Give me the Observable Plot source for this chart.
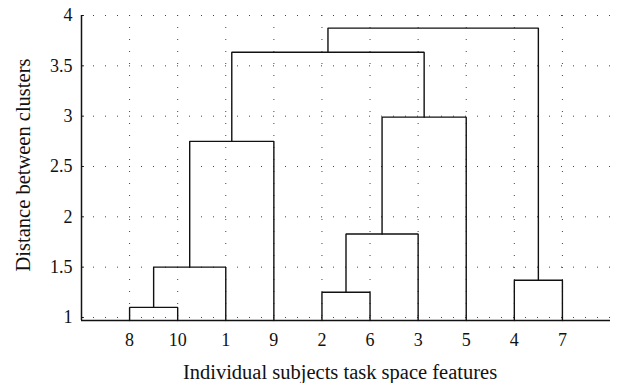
<!DOCTYPE html>
<html>
<head>
<meta charset="utf-8">
<script src="https://cdn.jsdelivr.net/npm/d3@7"></script>
<script src="https://cdn.jsdelivr.net/npm/@observablehq/plot@0.6"></script>
<style>
  html, body { margin: 0; padding: 0; background: #fff; }
  #chart svg { display: block; }
</style>
</head>
<body>
<div id="chart"></div>
<script>
// Leaf order along the horizontal axis (subject numbers)
const leafOrder = [8, 10, 1, 9, 2, 6, 3, 5, 4, 7];

// Linkage table: node ids 1..10 are subjects, ids 11.. are the clusters
// formed by each successive merge (first row -> 11, second -> 12, ...)
const mergeLeft   = [8, 2, 4, 11, 12, 14, 15, 16, 18];
const mergeRight  = [10, 6, 7, 1, 3, 9, 5, 17, 13];
const mergeHeight = [1.10, 1.25, 1.37, 1.50, 1.83, 2.75, 2.99, 3.635, 3.875];

// Axis ticks and labels
const yTicks = [1, 1.5, 2, 2.5, 3, 3.5, 4];
const yDomain = [0.97, 4];
const xLabel = "Individual subjects task space features";
const yLabel = "Distance between clusters";

const nLeaves = leafOrder.length;

// Position of each node: leaves sit at their slot, clusters centred over children
const nodeX = new Map();
const nodeY = new Map();
leafOrder.forEach((id, i) => { nodeX.set(id, i + 1); nodeY.set(id, yDomain[0]); });
mergeHeight.forEach((h, i) => {
  const id = nLeaves + 1 + i;
  const a = mergeLeft[i], b = mergeRight[i];
  nodeX.set(id, (nodeX.get(a) + nodeX.get(b)) / 2);
  nodeY.set(id, h);
});

// Each merge is drawn as a ⊓-shaped path: up from child a, across, down to child b
const links = mergeHeight.flatMap((h, i) => {
  const a = mergeLeft[i], b = mergeRight[i];
  return [
    {k: i, x: nodeX.get(a), y: nodeY.get(a)},
    {k: i, x: nodeX.get(a), y: h},
    {k: i, x: nodeX.get(b), y: h},
    {k: i, x: nodeX.get(b), y: nodeY.get(b)}
  ];
});

const slots = leafOrder.map((d, i) => i + 1);
const font = "'Liberation Serif', 'DejaVu Serif', serif";
const dots = {stroke: "#444", strokeOpacity: 1, strokeWidth: 1, strokeDasharray: "1,11"};

const chart = Plot.plot({
  width: 626,
  height: 383,
  marginLeft: 81,
  marginRight: 16,
  marginTop: 15,
  marginBottom: 63,
  style: {fontFamily: font, fontSize: "18px", color: "#111", background: "#fff"},
  x: {domain: [0, nLeaves + 1]},
  y: {domain: yDomain},
  marks: [
    Plot.gridX(slots, {...dots}),
    Plot.gridY(yTicks, {...dots}),
    Plot.axisX(slots, {
      tickSize: 0, tickPadding: 13, label: null,
      tickFormat: (d) => String(leafOrder[d - 1]),
      fontSize: 18, fontFamily: font
    }),
    Plot.axisY(yTicks, {
      tickSize: 0, tickPadding: 9, label: null,
      tickFormat: (d) => String(d), fontSize: 18, fontFamily: font
    }),
    // short inward tick marks on the distance axis
    Plot.ruleY(yTicks, {x1: 0, x2: 0.06, stroke: "#111", strokeWidth: 1}),
    Plot.ruleY([yDomain[0]], {stroke: "#111", strokeWidth: 1.5}),
    Plot.ruleX([0], {stroke: "#111", strokeWidth: 1.5}),
    Plot.line(links, {x: "x", y: "y", z: "k", stroke: "#111", strokeWidth: 1.4, strokeLinejoin: "miter", curve: "linear"}),
    Plot.text([xLabel], {frameAnchor: "bottom", lineAnchor: "bottom", dx: -6, dy: 58, fontSize: 20.5, fontFamily: font, fill: "#111"}),
    Plot.text([yLabel], {frameAnchor: "left", textAnchor: "middle", rotate: -90, lineAnchor: "top", dx: -66, dy: -3, fontSize: 20.5, fontFamily: font, fill: "#111"})
  ]
});

document.getElementById("chart").appendChild(chart);
</script>
</body>
</html>
